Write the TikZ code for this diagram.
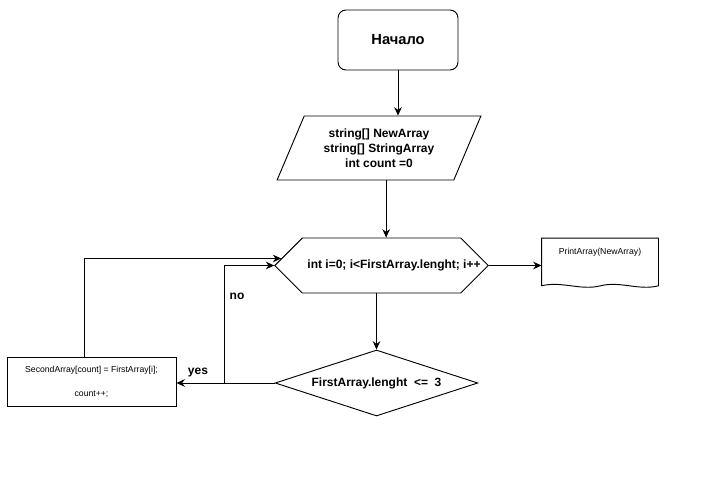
\documentclass[tikz,border=0pt]{standalone}
\usepackage{fontspec}
\setmainfont{Liberation Sans}
\usetikzlibrary{arrows.meta, shapes.geometric, shapes.symbols}

\begin{document}
\begin{tikzpicture}[
    x=0.75pt, y=-0.75pt, line width=0.7pt,
    >={Stealth[length=2.2mm, width=2mm]},
    mainfont/.style={font=\fontsize{9}{11.25}\selectfont\bfseries},
    smallfont/.style={font=\fontsize{6.5}{8}\selectfont},
    startbox/.style={draw, rounded corners=6pt, minimum width=90pt, minimum height=45pt, font=\fontsize{11}{13}\selectfont\bfseries},
    databox/.style={draw, trapezium, trapezium left angle=65.6, trapezium right angle=114.4, trapezium stretches=true, minimum width=153pt, minimum height=48pt, align=center, mainfont},
    loopbox/.style={draw, signal, signal to=west and east, signal pointer angle=90, minimum width=160pt, minimum height=41.25pt, inner sep=0pt},
    condbox/.style={draw, diamond, aspect=3.07, minimum width=152pt, minimum height=49.5pt, inner sep=0pt, mainfont},
    actionbox/.style={draw, minimum width=126.75pt, minimum height=36.75pt, align=center, smallfont},
    docbox/.style={minimum width=87pt, minimum height=35pt},
]
    \useasboundingbox (0,0) rectangle (702,478);

    \node[startbox] (start) at (398,40) {Начало};
    \node[databox] (vars) at (379,148) {string[] NewArray\\string[] StringArray\\int count =0};
    \node[loopbox] (loop) at (381.5,265.5) {};
    \node[mainfont] (looptext) at (394,265) {int i=0; i<FirstArray.lenght; i++};
    \node[docbox] (print) at (600,262) {};
    \node[smallfont] (printtext) at (600,252) {PrintArray(NewArray)};
    \node[condbox] (check) at (376.5,383) {FirstArray.lenght\ \ <=\ \ 3};
    \node[actionbox] (body) at (91.5,381.5) {SecondArray[count] = FirstArray[i];\\[10pt]count++;};
    \node[mainfont] (yes) at (198,373) {yes};
    \node[mainfont] (no) at (237,296) {no};
    \coordinate (split) at (224,383);

    % document shape, wavy bottom
    \draw (print.south west) -- (print.north west) -- (print.north east) -- (print.south east)
        .. controls +(-20,5) and +(20,-5) .. ++(-58,0)
        .. controls +(-20,5) and +(20,-5) .. (print.south west);

    \draw[->] (start.south) -- (start.south |- vars.north);
    \draw[->] ([xshift=3.5pt]loop.north |- vars.south) -- ([xshift=3.5pt]loop.north);
    \draw[->] (loop.east) -- (loop.east -| print.west);
    \draw[->] (check.north |- loop.south) -- (check.north);
    \draw[->] (check.west) -- (check.west -| body.east);
    \draw[->] (split) |- (loop.west);
    \draw[->] ([xshift=-5pt]body.north) |- (loop.176);
\end{tikzpicture}
\end{document}
